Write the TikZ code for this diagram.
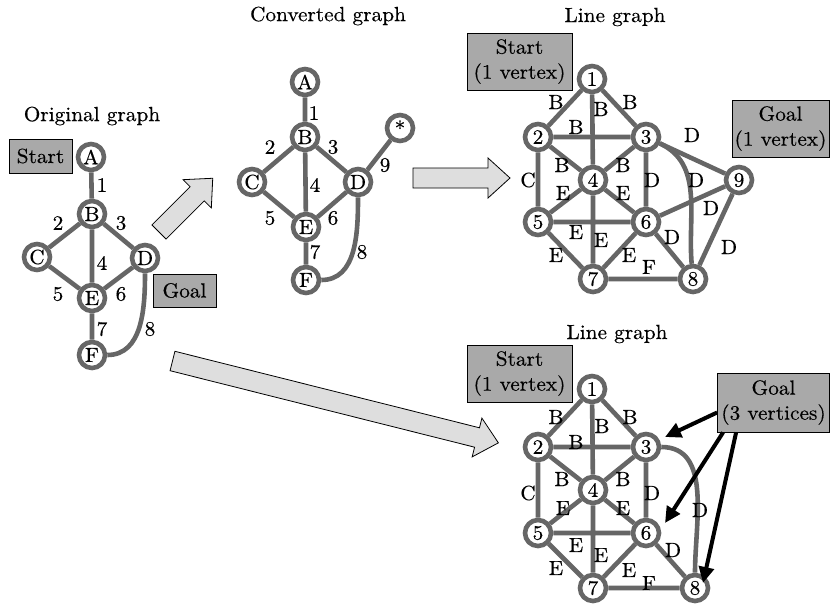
\documentclass[tikz,border=0pt]{standalone}
\usepackage{fontspec}
\setmainfont{lmroman10-regular.otf}[FakeStretch=1.04,FakeBold=0.4]
\usetikzlibrary{arrows.meta,calc}
\definecolor{eg}{HTML}{666666}
\definecolor{boxg}{HTML}{A9A9A9}
\definecolor{arrg}{HTML}{DEDEDE}
\pgfdeclarelayer{bg}
\pgfsetlayers{bg,main}
\newcommand\fatarrow[3]{%
  \draw[bigarrow, shift={#1}, rotate=#2] (0,-10) -- ({#3-22},-10) -- ({#3-22},-20) -- (#3,0)
    -- ({#3-22},20) -- ({#3-22},10) -- (0,10) -- cycle;}
\begin{document}
\begin{tikzpicture}[x=1pt,y=-1pt,font=\fontsize{20.5}{25}\selectfont,
  vtx/.style={circle, draw=eg, line width=4.6pt, fill=white, minimum size=26pt, inner sep=0pt},
  lnk/.style={draw=eg, line width=4.6pt},
  elab/.style={inner sep=0pt},
  infobox/.style={draw=black, line width=0.8pt, fill=boxg, align=center, inner sep=0pt},
  bigarrow/.style={draw=black, line width=0.8pt, fill=arrg, line join=miter},
  garrow/.style={draw=black, line width=4pt, -{Triangle[length=16pt,width=15pt]}}]
\useasboundingbox (0,0) rectangle (830,613);

% titles
\node[elab] (tto) at (92,116) {Original graph};
\node[elab] (ttc) at (328,16) {Converted graph};
\node[elab] (ttl) at (615,17) {Line graph};
\node[elab] (ttu) at (617,334) {Line graph};

% ---------- original graph
\node[vtx] (oA) at (91,157) {A};
\node[vtx] (oB) at (92,214) {B};
\node[vtx] (oC) at (37,257) {C};
\node[vtx] (oD) at (145,258) {D};
\node[vtx] (oE) at (92,298) {E};
\node[vtx] (oF) at (92,355) {F};
\node[infobox, minimum width=63pt, minimum height=34pt] (os) at (40.5,156) {Start};
\node[infobox, minimum width=63pt, minimum height=33pt] (og) at (184.5,290.5) {Goal};
\foreach \t/\x/\y [count=\i] in {1/102/185,2/58/223,3/121/223,4/102/263,5/58/294,6/121/294,7/102/329,8/150/329}
  \node[elab] (ol\i) at (\x,\y) {\t};

% ---------- converted graph
\node[vtx] (cA) at (305,82) {A};
\node[vtx] (cB) at (305,137) {B};
\node[vtx] (cC) at (252,182) {C};
\node[vtx] (cD) at (358,182) {D};
\node[vtx] (cE) at (306,227) {E};
\node[vtx] (cF) at (306,280) {F};
\node[vtx] (cS) at (400,128) {*};
\foreach \t/\x/\y [count=\i] in {1/314/113,2/270/147,3/333/147,4/315/185,5/270/218,6/333/218,7/315/252,8/362/252,9/385/165}
  \node[elab] (cl\i) at (\x,\y) {\t};

% ---------- top line graph
\node[vtx] (t1) at (592,79) {1};
\node[vtx] (t2) at (538,137) {2};
\node[vtx] (t3) at (646,137) {3};
\node[vtx] (t4) at (593,180) {4};
\node[vtx] (t5) at (538,222) {5};
\node[vtx] (t6) at (646,222) {6};
\node[vtx] (t7) at (593,279) {7};
\node[vtx] (t8) at (693,279) {8};
\node[vtx] (t9) at (739,180) {9};
\node[infobox, minimum width=105pt, minimum height=57pt] (ts) at (519.5,61.5) {Start\\(1 vertex)};
\node[infobox, minimum width=97pt, minimum height=57pt] (tg) at (780.5,128.5) {Goal\\(1 vertex)};
\foreach \t/\x/\y [count=\i] in {B/556/102,B/601/109,B/630/102,B/576/127,B/562/165,B/623/165,C/528/180,
  E/563/193,E/623/193,D/652/180,D/696/180,D/692/135,D/711/208,E/576/232,E/601/240,D/672/237,D/729/247,
  E/556/255,E/629/255,F/649/267}
  \node[elab] (tl\i) at (\x,\y) {\t};

% ---------- bottom line graph
\node[vtx] (u1) at (592,389) {1};
\node[vtx] (u2) at (538,447) {2};
\node[vtx] (u3) at (646,447) {3};
\node[vtx] (u4) at (593,490) {4};
\node[vtx] (u5) at (538,533) {5};
\node[vtx] (u6) at (646,533) {6};
\node[vtx] (u7) at (593,588) {7};
\node[vtx] (u8) at (695,588) {8};
\node[infobox, minimum width=105pt, minimum height=57pt] (us) at (519.5,373.5) {Start\\(1 vertex)};
\node[infobox, minimum width=112pt, minimum height=59pt] (ug) at (773.5,402.5) {Goal\\(3 vertices)};
\foreach \t/\x/\y [count=\i] in {B/556/417,B/602/426,B/630/417,B/576/442,B/562/479,B/623/479,C/528/493,
  E/563/508,E/623/508,D/652/493,D/700/510,E/576/545,E/601/555,D/673/550,E/556/568,E/629/570,F/649/583}
  \node[elab] (ul\i) at (\x,\y) {\t};

% goal arrows
\draw[garrow] ($(ug.west)+(0,10)$) -- ($(u3)+(19,-10)$);
\draw[garrow] ($(ug.south west)+(6,0)$) -- ($(u6)+(19,-10)$);
\draw[garrow] ($(ug.south west)+(19,0)$) -- ($(u8)+(8,-5)$);

% big arrows
\fatarrow{(159,232)}{45}{76}
\fatarrow{(413,178)}{0}{97}
\fatarrow{(172.5,361)}{-14.1}{336}

% ---------- edges
\begin{pgfonlayer}{bg}
\draw[lnk] (oA) -- (oB) (oB) -- (oC) (oB) -- (oD) (oB) -- (oE) (oC) -- (oE) (oD) -- (oE) (oE) -- (oF);
\draw[lnk] (oD) to[out=-90,in=0] (oF);
\draw[lnk] (cA) -- (cB) (cB) -- (cC) (cB) -- (cD) (cB) -- (cE) (cC) -- (cE) (cD) -- (cE) (cE) -- (cF) (cD) -- (cS);
\draw[lnk] (cD) to[out=-90,in=0] (cF);
\draw[lnk] (t1) -- (t2) (t1) -- (t3) (t1) -- (t4) (t2) -- (t3) (t2) -- (t4) (t3) -- (t4)
  (t2) -- (t5) (t4) -- (t5) (t4) -- (t6) (t4) -- (t7) (t5) -- (t6) (t5) -- (t7) (t6) -- (t7)
  (t3) -- (t6) (t3) -- (t9) (t6) -- (t9) (t6) -- (t8) (t8) -- (t9) (t7) -- (t8);
\draw[lnk] (t3) to[out=-25,in=95] (t8);
\draw[lnk] (u1) -- (u2) (u1) -- (u3) (u1) -- (u4) (u2) -- (u3) (u2) -- (u4) (u3) -- (u4)
  (u2) -- (u5) (u4) -- (u5) (u4) -- (u6) (u4) -- (u7) (u5) -- (u6) (u5) -- (u7) (u6) -- (u7)
  (u3) -- (u6) (u6) -- (u8) (u7) -- (u8);
\draw[lnk] (u3) to[out=0,in=90] (u8);
\end{pgfonlayer}
\end{tikzpicture}
\end{document}
